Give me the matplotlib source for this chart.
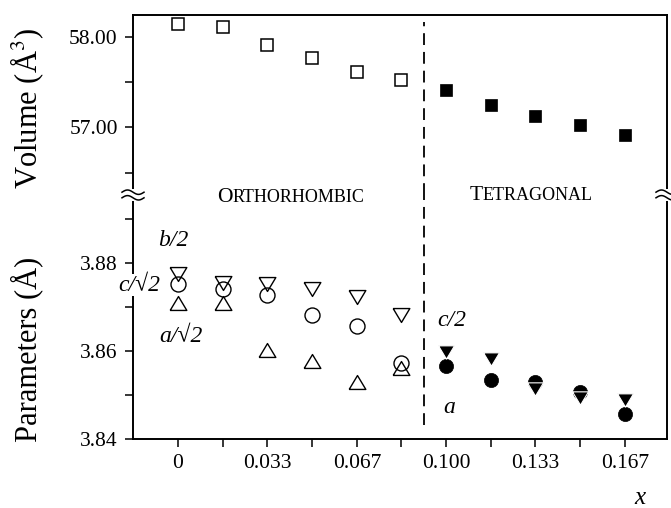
import matplotlib
matplotlib.use('Agg')
import matplotlib.pyplot as plt
from matplotlib.lines import Line2D
from matplotlib.patches import Rectangle
import numpy as np

plt.rcParams['font.family'] = ['Liberation Serif', 'DejaVu Serif']
plt.rcParams['mathtext.fontset'] = 'stix'
plt.rcParams['lines.scale_dashes'] = False

# ---------------- data ----------------
x_ortho = [0.0, 0.0167, 0.0333, 0.05, 0.0667, 0.0833]
x_tetra = [0.1, 0.1167, 0.1333, 0.15, 0.1667]

vol_ortho = [58.14, 58.11, 57.91, 57.77, 57.61, 57.52]
vol_tetra = [57.41, 57.25, 57.12, 57.03, 56.92]

b_half = [3.8775, 3.8755, 3.8753, 3.8742, 3.8724, 3.8682]      # b/2 (open down-triangles)
c_sqrt2 = [3.8752, 3.8741, 3.8727, 3.8683, 3.8658, 3.8574]     # c/sqrt2 (open circles)
a_sqrt2 = [3.8709, 3.8709, 3.8603, 3.8577, 3.8530, 3.8561]     # a/sqrt2 (open up-triangles)
c_half = [3.8597, 3.8581, 3.8514, 3.8493, 3.8488]              # c/2 (filled down-triangles)
a_tetra = [3.8567, 3.8534, 3.8529, 3.8507, 3.8458]             # a (filled circles)

xtick_pos = x_ortho + x_tetra
xtick_labels = ['0', '', '0.033', '', '0.067', '', '0.100', '', '0.133', '', '0.167']
vol_ticks = [56.5, 57.0, 57.5, 58.0]
vol_labels = ['', '57.00', '', '58.00']
par_ticks = [3.84, 3.85, 3.86, 3.87, 3.88, 3.89]
par_labels = ['3.84', '', '3.86', '', '3.88', '']
boundary_x = 0.0917

# ---------------- figure ----------------
W, H = 671, 508
fig = plt.figure(figsize=(W / 100, H / 100), dpi=100)

def fx(px):
    return px / W

def fy(py):
    return 1 - py / H

L, R = 133, 667
T, MID, B = 14.5, 195, 439
ax_top = fig.add_axes([fx(L), fy(MID), fx(R) - fx(L), fy(T) - fy(MID)])
ax_bot = fig.add_axes([fx(L), fy(B), fx(R) - fx(L), fy(MID) - fy(B)])

xlim = (-0.0168, 0.1824)
for ax in (ax_top, ax_bot):
    ax.set_xlim(*xlim)
    for s in ax.spines.values():
        s.set_linewidth(1.4)
    ax.tick_params(direction='out', length=6, width=1.1, labelsize=15.5, pad=5)

ax_top.set_ylim(56.253, 58.245)
ax_bot.set_ylim(3.84, 3.8955)
ax_top.spines['bottom'].set_visible(False)
ax_bot.spines['top'].set_visible(False)
ax_top.set_xticks([])
ax_top.set_yticks(vol_ticks)
ax_top.set_yticklabels(vol_labels)
ax_bot.set_yticks(par_ticks)
ax_bot.set_yticklabels(par_labels)
ax_bot.set_xticks(xtick_pos)
ax_bot.set_xticklabels(xtick_labels)
ax_bot.tick_params(axis='x', pad=5)

# custom triangles (wider than tall)
up_tri = [(-1.2, -1), (1.2, -1), (0, 1), (-1.2, -1)]
down_tri = [(-1.2, 1), (1.2, 1), (0, -1), (-1.2, 1)]

# volume
ax_top.plot(x_ortho, vol_ortho, ls='none', marker='s', ms=8.3, mfc='none', mec='black', mew=1.1, zorder=4)
ax_top.plot(x_tetra, vol_tetra, ls='none', marker='s', ms=8.4, mfc='black', mec='black', mew=0.5, zorder=4)

# parameters
ax_bot.plot(x_ortho, c_sqrt2, ls='none', marker='o', ms=10.8, mfc='none', mec='black', mew=1.0, zorder=4)
ax_bot.plot(x_ortho, b_half, ls='none', marker=down_tri, ms=12, mfc='none', mec='black', mew=1.0, zorder=4)
ax_bot.plot(x_ortho, a_sqrt2, ls='none', marker=up_tri, ms=12, mfc='none', mec='black', mew=1.0, zorder=4)
ax_bot.plot(x_tetra, a_tetra, ls='none', marker='o', ms=10.2, mfc='black', mec='black', mew=0.5, zorder=4)
ax_bot.plot(x_tetra, c_half, ls='none', marker=down_tri, ms=11.5, mfc='black', mec='white', mew=0.8, zorder=5)

# dashed phase boundary
ax_top.axvline(boundary_x, ymin=0, ymax=(MID - 22) / (MID - T), color='black', lw=1.3,
               dashes=(8.5, 5), zorder=3)
ax_bot.axvline(boundary_x, ymin=(B - 425) / (B - MID), ymax=1, color='black', lw=1.3,
               dashes=(8.5, 5), zorder=3)

# in-plot labels
lab_kw = dict(fontsize=17, style='italic', ha='center', va='center')
ax_bot.text(-0.0019, 3.8852, 'b/2', **lab_kw)
ax_bot.text(-0.0146, 3.8750, 'c/√2', zorder=10, clip_on=False,
            bbox=dict(fc='white', ec='none', pad=0.5), **lab_kw)
ax_bot.text(0.0011, 3.8634, 'a/√2', **lab_kw)
ax_bot.text(0.1020, 3.8670, 'c/2', **lab_kw)
ax_bot.text(0.1010, 3.8472, 'a', **lab_kw)

# axis labels
fig.text(fx(27), fy(108), 'Volume (Å$^{3}$)', rotation=90, fontsize=22, ha='center', va='center')
fig.text(fx(27), fy(349), 'Parameters (Å)', rotation=90, fontsize=22, ha='center', va='center')
fig.text(fx(640), fy(504), 'x', style='italic', fontsize=18, ha='center', va='baseline')

# small caps phase labels
fig.canvas.draw()
renderer = fig.canvas.get_renderer()

def smallcaps(cx, base_y, first, rest, big=15.5, small=13):
    t1 = fig.text(0, fy(base_y), first, fontsize=big, va='baseline', ha='left')
    t2 = fig.text(0, fy(base_y), rest, fontsize=small, va='baseline', ha='left')
    w1 = t1.get_window_extent(renderer).width
    w2 = t2.get_window_extent(renderer).width
    left = cx - (w1 + w2) / 2
    t1.set_x(fx(left))
    t2.set_x(fx(left + w1))

smallcaps(291, 202, 'O', 'RTHORHOMBIC')
smallcaps(531, 200.5, 'T', 'ETRAGONAL')

# axis break marks
for xs in (L, R):
    fig.patches.append(Rectangle((fx(xs - 3), fy(201)), fx(6), fy(189) - fy(201),
                                 transform=fig.transFigure, fc='white', ec='none', zorder=5))
    t = np.linspace(0, 1, 40)
    for off in (-2.8, 2.8):
        px = xs - 11 + 22 * t
        py = MID + off - 2.2 * np.sin(2 * np.pi * t)
        fig.lines.append(Line2D(fx(px), fy(py), transform=fig.transFigure,
                                color='black', lw=1.1, zorder=6))

fig.savefig('out.png', dpi=100)
